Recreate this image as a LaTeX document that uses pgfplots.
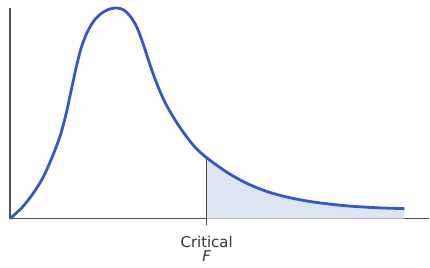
\documentclass[border=0pt]{standalone}
\usepackage{fontspec}
\setmainfont{DejaVu Sans}
\usepackage{pgfplots}
\pgfplotsset{compat=1.18}
\definecolor{curveblue}{RGB}{52,88,200}
\definecolor{fillblue}{RGB}{221,229,245}
\definecolor{axisgray}{RGB}{80,80,80}
\begin{document}
\begin{tikzpicture}
\begin{axis}[
  scale only axis,
  width=420pt, height=211pt,
  xmin=10, xmax=430, ymin=0, ymax=211,
  axis lines=left,
  axis line style={-, axisgray, line width=1.5pt},
  xtick=\empty, ytick=\empty,
  clip=false,
]
% shaded tail
\addplot[fill=fillblue, draw=none, smooth, tension=0.5] coordinates {
 (207,61) (228,46) (248,35) (268,27) (290,21) (315,16.5) (345,13) (375,11) (405,10)
} \closedcycle;
% critical line
\addplot[axisgray, line width=1.2pt] coordinates {(207,-6) (207,61)};
% F distribution curve
\addplot[curveblue, line width=2.8pt, smooth, tension=0.5] coordinates {
 (10,0) (22,11) (33,25) (43,41) (52,61) (60,82) (66,104) (71,127) (76,150) (81,170) (87,186) (94,198) (102,206) (110,210) (117,211)
 (124,209) (131,202) (137,192) (142,179) (147,164) (152,149) (158,133) (165,117) (174,101) (184,86) (195,72) (207,61)
 (228,46) (248,35) (268,27) (290,21) (315,16.5) (345,13) (375,11) (405,10)
};
\path (axis cs:0,-49) rectangle (axis cs:430,219);
\node[font=\fontsize{14.9}{17}\selectfont, text=black!80] at (axis cs:207,-23) {Critical};
\node[font=\fontsize{14.9}{17}\selectfont\itshape, text=black!80] at (axis cs:207,-38) {F};
\end{axis}
\end{tikzpicture}
\end{document}
